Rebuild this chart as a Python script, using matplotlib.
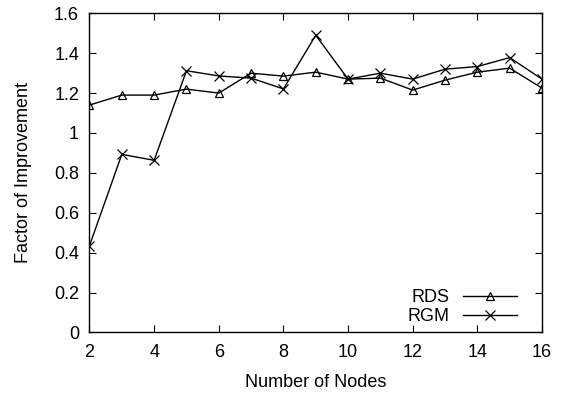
import matplotlib
matplotlib.use("Agg")
import matplotlib.pyplot as plt

plt.rcParams["font.family"] = ["Liberation Sans", "DejaVu Sans"]

nodes = [2, 3, 4, 5, 6, 7, 8, 9, 10, 11, 12, 13, 14, 15, 16]
rds = [1.14, 1.19, 1.19, 1.22, 1.20, 1.30, 1.285, 1.305, 1.27, 1.275, 1.215, 1.265, 1.305, 1.325, 1.225]
rgm = [0.435, 0.893, 0.863, 1.312, 1.286, 1.275, 1.221, 1.49, 1.27, 1.30, 1.27, 1.32, 1.333, 1.378, 1.27]
xticks = [2, 4, 6, 8, 10, 12, 14, 16]
yticks = [0, 0.2, 0.4, 0.6, 0.8, 1, 1.2, 1.4, 1.6]
ytick_labels = ["0", "0.2", "0.4", "0.6", "0.8", "1", "1.2", "1.4", "1.6"]

fig = plt.figure(figsize=(5.65, 3.98), dpi=100)
ax = fig.add_axes([0.1584, 0.1646, 0.8009, 0.802])

ax.plot(nodes, rds, color="black", lw=1.0, marker="^", ms=6,
        mfc="none", mec="black", mew=0.9, label="RDS")
ax.plot(nodes, rgm, color="black", lw=1.0, marker="x", ms=7,
        mew=0.9, label="RGM")

ax.set_xlim(2, 16)
ax.set_ylim(0, 1.6)
ax.set_xticks(xticks)
ax.set_yticks(yticks)
ax.set_yticklabels(ytick_labels)
ax.tick_params(direction="in", length=5, width=0.8, labelsize=13,
               top=True, right=True)
ax.tick_params(axis="y", pad=7.5)
ax.tick_params(axis="x", pad=8)
for sp in ax.spines.values():
    sp.set_linewidth(1.0)

ax.set_xlabel("Number of Nodes", fontsize=13, labelpad=10)
ax.set_ylabel("Factor of Improvement", fontsize=13, labelpad=16)

ax.legend(loc="lower right", frameon=False, markerfirst=False, numpoints=1,
          fontsize=13, handlelength=3.0, handletextpad=0.72, labelspacing=0.1,
          borderaxespad=0.0, bbox_to_anchor=(0.96, 0.0))

fig.savefig("out.png", dpi=100)
